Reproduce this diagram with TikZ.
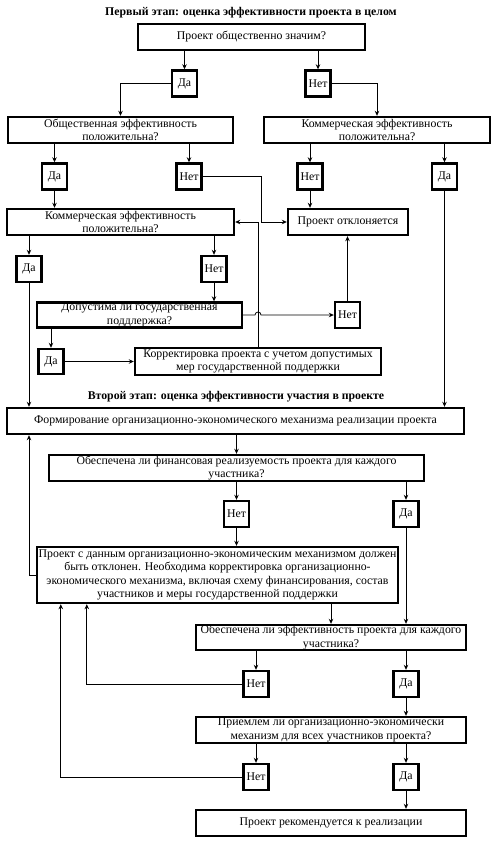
\documentclass[tikz,border=0pt]{standalone}
\usepackage{fontspec}
\setmainfont{Liberation Serif}
\usetikzlibrary{arrows.meta, calc}

\begin{document}
\begin{tikzpicture}[
  x=1pt, y=-1pt,
  font=\fontsize{11.8}{13.3}\selectfont,
  >={Stealth[length=5pt,width=4.5pt]},
  box/.style={draw, line width=2.4pt, minimum height=26pt, inner sep=0pt, align=center},
  ans/.style={draw, line width=2.4pt, minimum width=25pt, minimum height=26pt, inner sep=0pt},
  ttl/.style={font=\fontsize{11.8}{13.3}\selectfont\bfseries},
  link/.style={->, line width=0.8pt}
]
  \useasboundingbox (0,0) rectangle (493,842);

  \node[ttl] (title1) at (251,13) {Первый этап: оценка эффективности проекта в целом};
  \node[box, minimum width=227pt] (signif) at (251.5,37) {Проект общественно значим?};
  \node[ans] (signif_yes) at (184.5,83.5) {Да};
  \node[ans] (signif_no) at (318,83.5) {Нет};

  \node[box, minimum width=225pt] (pubeff) at (120.5,130) {Общественная эффективность\\положительна?};
  \node[box, minimum width=226pt] (commeff) at (377,130) {Коммерческая эффективность\\положительна?};
  \node[ans] (pubeff_yes) at (54.5,176.5) {Да};
  \node[ans] (pubeff_no) at (189,176.5) {Нет};
  \node[ans] (commeff_no) at (310,176.5) {Нет};
  \node[ans] (commeff_yes) at (444.5,176.5) {Да};

  \node[box, minimum width=227pt] (commeff2) at (120.5,222) {Коммерческая эффективность\\положительна?};
  \node[box, minimum width=120pt] (rejected) at (348,222) {Проект отклоняется};
  \node[ans] (commeff2_yes) at (29,269) {Да};
  \node[ans] (commeff2_no) at (214,269) {Нет};

  \node[box, minimum width=205pt, minimum height=25pt] (support) at (139.5,315) {Допустима ли государственная\\поддлержка?};
  \node[ans] (support_no) at (347.5,315) {Нет};
  \node[ans, minimum height=25pt] (support_yes) at (51,361.5) {Да};
  \node[box, minimum width=246pt, minimum height=27pt] (adjust) at (258,361.5) {Корректировка проекта с учетом допустимых\\мер государственной поддержки};

  \node[ttl] (title2) at (236,397) {Второй этап: оценка эффективности участия в проекте};
  \node[box, minimum width=457pt] (mechanism) at (235.5,421) {Формирование организационно-экономического механизма реализации проекта};
  \node[box, minimum width=375pt] (finance) at (236.5,468) {Обеспечена ли финансовая реализуемость проекта для каждого\\участника?};
  \node[ans] (finance_no) at (236.5,514) {Нет};
  \node[ans] (finance_yes) at (406,514) {Да};

  \node[box, minimum width=361pt, minimum height=56pt] (revise) at (217.5,575) {Проект с данным организационно-экономическим механизмом должен\\быть отклонен. Необходима корректировка организационно-\\экономического механизма, включая схему финансирования, состав\\участников и меры государственной поддержки};

  \node[box, minimum width=270pt, minimum height=25pt] (efficiency) at (331,637.5) {Обеспечена ли эффективность проекта для каждого\\участника?};
  \node[ans] (efficiency_no) at (256,684) {Нет};
  \node[ans] (efficiency_yes) at (406,684) {Да};

  \node[box, minimum width=270pt] (accept) at (331,730) {Приемлем ли организационно-экономически\\механизм для всех участников проекта?};
  \node[ans] (accept_no) at (256,777) {Нет};
  \node[ans] (accept_yes) at (406,777) {Да};

  \node[box, minimum width=270pt] (recommended) at (331,823) {Проект рекомендуется к реализации};

  % first stage
  \draw[link] (signif.south -| signif_yes.north) -- (signif_yes.north);
  \draw[link] (signif.south -| signif_no.north) -- (signif_no.north);
  \draw[link] (signif_yes.west) -| (pubeff.north);
  \draw[link] (signif_no.east) -| (commeff.north);
  \draw[link] (pubeff.south -| pubeff_yes.north) -- (pubeff_yes.north);
  \draw[link] (pubeff.south -| pubeff_no.north) -- (pubeff_no.north);
  \draw[link] (commeff.south -| commeff_no.north) -- (commeff_no.north);
  \draw[link] (commeff.south -| commeff_yes.north) -- (commeff_yes.north);
  \draw[link] (pubeff_yes.south) -- (pubeff_yes.south |- commeff2.north);
  \draw[link] (pubeff_no.east) -| ($(rejected.west)+(-25,0)$) -- (rejected.west);
  \draw[link] (commeff_no.south) -- (commeff_no.south |- rejected.north);
  \draw[link] (commeff_yes.south) -- (commeff_yes.south |- mechanism.north);
  \draw[link] (commeff2.south -| commeff2_yes.north) -- (commeff2_yes.north);
  \draw[link] (commeff2.south -| commeff2_no.north) -- (commeff2_no.north);
  \draw[link] (commeff2_yes.south) -- (commeff2_yes.south |- mechanism.north);
  \draw[link] (commeff2_no.south) -- (commeff2_no.south |- support.north);
  \draw[link] (support.east) -- ($(support.east -| adjust.north)+(-3,0)$)
    arc[start angle=180, end angle=0, radius=3pt] -- (support_no.west);
  \draw[link] (support_no.north) -- (support_no.north |- rejected.south);
  \draw[link] (support_yes.north |- support.south) -- (support_yes.north);
  \draw[link] (support_yes.east) -- (adjust.west);
  \draw[link] (adjust.north) |- (commeff2.east);

  % second stage
  \draw[link] (mechanism.south -| finance.north) -- (finance.north);
  \draw[link] (finance.south -| finance_no.north) -- (finance_no.north);
  \draw[link] (finance.south -| finance_yes.north) -- (finance_yes.north);
  \draw[link] (finance_no.south) -- (finance_no.south |- revise.north);
  \draw[link] (revise.west) -| (commeff2_yes.south |- mechanism.south);
  \draw[link] (finance_yes.south) -- (finance_yes.south |- efficiency.north);
  \draw[link] (revise.south -| efficiency.north) -- (efficiency.north);
  \draw[link] (efficiency.south -| efficiency_no.north) -- (efficiency_no.north);
  \draw[link] (efficiency.south -| efficiency_yes.north) -- (efficiency_yes.north);
  \draw[link] (efficiency_no.west) -| ($(revise.south west)+(51,0)$);
  \draw[link] (efficiency_yes.south) -- (efficiency_yes.south |- accept.north);
  \draw[link] (accept.south -| accept_no.north) -- (accept_no.north);
  \draw[link] (accept.south -| accept_yes.north) -- (accept_yes.north);
  \draw[link] (accept_no.west) -| ($(revise.south west)+(25,0)$);
  \draw[link] (accept_yes.south) -- (accept_yes.south |- recommended.north);
\end{tikzpicture}
\end{document}
